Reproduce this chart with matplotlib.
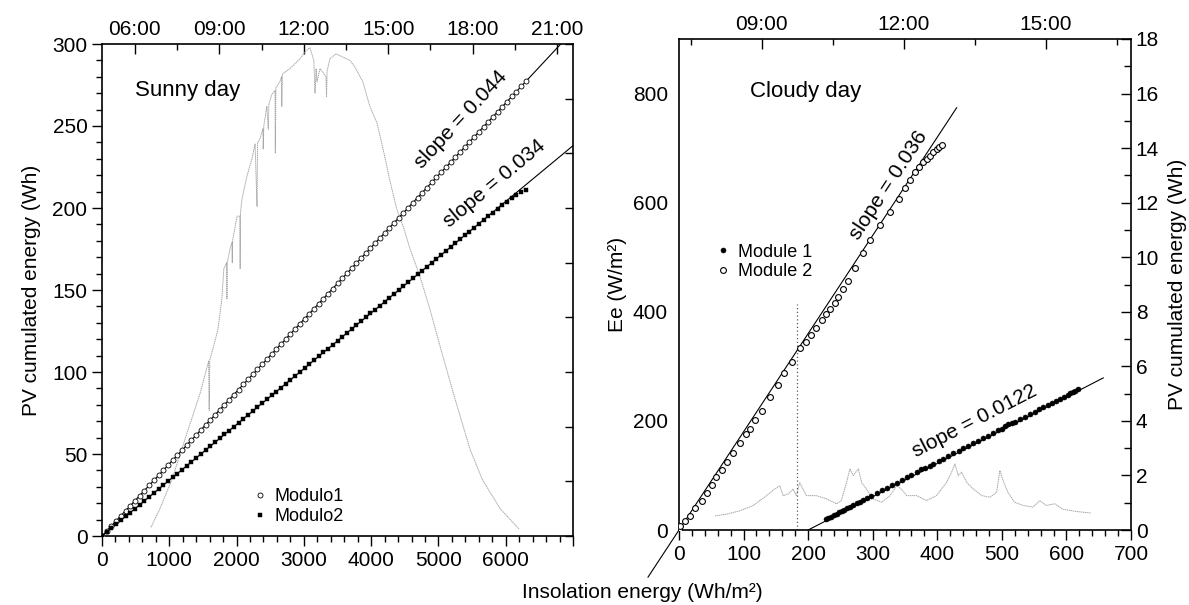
import numpy as np
import matplotlib
matplotlib.use("Agg")
import matplotlib.pyplot as plt
from matplotlib.ticker import MultipleLocator, FuncFormatter, NullFormatter

# ---------------- data ----------------
# Sunny day: cumulated insolation (Wh/m2) and cumulated PV energy (Wh)
sun_insol = [0, 70, 140, 210, 280, 350, 420, 490, 560, 630, 700, 770, 840, 910, 980, 1050,
             1120, 1190, 1260, 1330, 1400, 1470, 1540, 1610, 1680, 1750, 1820, 1890, 1960,
             2030, 2100, 2170, 2240, 2310, 2380, 2450, 2520, 2590, 2660, 2730, 2800, 2870,
             2940, 3010, 3080, 3150, 3220, 3290, 3360, 3430, 3500, 3570, 3640, 3710, 3780,
             3850, 3920, 3990, 4060, 4130, 4200, 4270, 4340, 4410, 4480, 4550, 4620, 4690,
             4760, 4830, 4900, 4970, 5040, 5110, 5180, 5250, 5320, 5390, 5460, 5530, 5600,
             5670, 5740, 5810, 5880, 5950, 6020, 6090, 6160, 6230, 6300]
modulo1 = [0, 3.1, 6.2, 9.2, 12.3, 15.4, 18.5, 21.6, 24.6, 27.7, 30.8, 33.9, 37.0, 40.0, 43.1,
           46.2, 49.3, 52.4, 55.4, 58.5, 61.6, 64.7, 67.8, 70.8, 73.9, 77.0, 80.1, 83.2, 86.2,
           89.3, 92.4, 95.5, 98.6, 101.6, 104.7, 107.8, 110.9, 114.0, 117.0, 120.1, 123.2,
           126.3, 129.4, 132.4, 135.5, 138.6, 141.7, 144.8, 147.8, 150.9, 154.0, 157.1, 160.2,
           163.2, 166.3, 169.4, 172.5, 175.6, 178.6, 181.7, 184.8, 187.9, 191.0, 194.0, 197.1,
           200.2, 203.3, 206.4, 209.4, 212.5, 215.6, 218.7, 221.8, 224.8, 227.9, 231.0, 234.1,
           237.2, 240.2, 243.3, 246.4, 249.5, 252.6, 255.6, 258.7, 261.8, 264.9, 268.0, 271.0,
           274.1, 277.2]
modulo2 = [0, 2.4, 4.8, 7.1, 9.5, 11.9, 14.3, 16.7, 19.0, 21.4, 23.8, 26.2, 28.6, 30.9, 33.3,
           35.7, 38.1, 40.5, 42.8, 45.2, 47.6, 50.0, 52.4, 54.7, 57.1, 59.5, 61.9, 64.3, 66.6,
           69.0, 71.4, 73.8, 76.2, 78.5, 80.9, 83.3, 85.7, 88.1, 90.4, 92.8, 95.2, 97.6, 100.0,
           102.3, 104.7, 107.1, 109.5, 111.9, 114.2, 116.6, 119.0, 121.4, 123.8, 126.1, 128.5,
           130.9, 133.3, 135.7, 138.0, 140.4, 142.8, 145.2, 147.6, 149.9, 152.3, 154.7, 157.1,
           159.5, 161.8, 164.2, 166.6, 169.0, 171.4, 173.7, 176.1, 178.5, 180.9, 183.3, 185.6,
           188.0, 190.4, 192.8, 195.2, 197.2, 199.4, 201.6, 203.7, 205.8, 207.8, 209.6, 211.2]
sun_slopes = [0.044, 0.034]
sun_fit_range = [0, 7000]

# Sunny day irradiance vs time of day (h, W/m2)
sun_time = [6.57, 6.89, 7.32, 7.78, 8.31, 8.62, 8.64, 8.66, 8.77, 8.95, 9.09, 9.16, 9.26, 9.27,
            9.28, 9.38, 9.45, 9.46, 9.47, 9.63, 9.73, 9.74, 9.75, 9.80, 9.98, 10.16, 10.27,
            10.34, 10.36, 10.44, 10.55, 10.56, 10.58, 10.69, 10.74, 10.76, 10.87, 10.98, 10.99,
            11.01, 11.15, 11.21, 11.22, 11.24, 11.51, 11.87, 12.08, 12.22, 12.36, 12.40, 12.44,
            12.47, 12.58, 12.79, 12.81, 12.83, 12.93, 13.15, 13.39, 13.64, 13.82, 14.10, 14.35,
            14.60, 14.82, 15.07, 15.31, 15.53, 15.78, 16.13, 16.49, 16.84, 17.38, 17.91, 18.34,
            18.98, 19.65]
sun_irr = [16, 50, 104, 177, 260, 320, 230, 322, 342, 378, 434, 489, 500, 434,
           500, 525, 537, 500, 540, 585, 585, 489, 590, 615, 658, 690, 717,
           603, 720, 726, 745, 708, 750, 786, 744, 790, 808, 815, 700,
           820, 831, 840, 786, 845, 855, 873, 888, 893, 870, 810, 855,
           831, 855, 840, 804, 850, 873, 882, 876, 870, 858, 831, 786,
           756, 708, 648, 597, 567, 525, 475, 414, 348, 250, 159, 104,
           50, 13]

# Cloudy day
m1_insol = [228, 231, 235, 240, 244, 248, 252, 256, 260, 265, 270, 275, 280, 285, 291, 298, 306,
            314, 322, 330, 337, 345, 353, 360, 368, 375, 381, 388, 394, 402, 409, 417, 425, 433,
            440, 448, 456, 463, 471, 479, 487, 494, 500, 505, 510, 515, 520, 528, 536, 544, 551,
            558, 564, 571, 577, 584, 590, 596, 602, 606, 610, 614, 618]
m1_energy = [0.40, 0.44, 0.49, 0.55, 0.60, 0.65, 0.69, 0.74, 0.79, 0.85, 0.91, 0.98, 1.04, 1.10,
             1.17, 1.26, 1.35, 1.45, 1.55, 1.65, 1.73, 1.83, 1.93, 2.01, 2.11, 2.24, 2.29, 2.35,
             2.43, 2.52, 2.61, 2.71, 2.81, 2.90, 2.99, 3.09, 3.18, 3.27, 3.37, 3.46, 3.56, 3.65,
             3.72, 3.82, 3.90, 3.93, 3.97, 4.06, 4.16, 4.26, 4.34, 4.43, 4.50, 4.59, 4.66, 4.74,
             4.82, 4.89, 4.96, 5.01, 5.06, 5.11, 5.16]
m2_insol = [0, 2, 9, 17, 25, 35, 43, 51, 58, 66, 74, 83, 95, 104, 110, 118, 128, 141, 154, 162,
            175, 187, 196, 204, 212, 221, 228, 234, 241, 247, 254, 261, 273, 285, 296, 311, 326,
            340, 350, 358, 366, 372, 378, 384, 389, 394, 399, 403, 407]
m2_energy = [0, 0.16, 0.34, 0.52, 0.80, 1.08, 1.34, 1.64, 1.94, 2.20, 2.50, 2.82, 3.20, 3.52,
             3.70, 4.02, 4.38, 4.88, 5.30, 5.74, 6.15, 6.67, 6.90, 7.15, 7.42, 7.69, 7.92, 8.12,
             8.34, 8.55, 8.82, 9.12, 9.61, 10.14, 10.62, 11.17, 11.67, 12.15, 12.52, 12.82,
             13.14, 13.30, 13.48, 13.60, 13.72, 13.85, 13.97, 14.05, 14.11]
cloud_slope_m2 = 0.036
cloud_fit_m2 = [-48, 430]
cloud_slope_m1 = 0.0122
cloud_fit_m1 = [200, 657]
cloud_vline_insol = 182
cloud_vline_ee = 415

cloud_time = [8.01, 8.25, 8.53, 8.82, 9.10, 9.27, 9.38, 9.45, 9.56, 9.66, 9.73, 9.80, 9.87, 9.94,
              10.15, 10.37, 10.58, 10.68, 10.79, 10.86, 10.93, 11.04, 11.11, 11.21, 11.35, 11.53,
              11.71, 11.85, 11.95, 12.06, 12.27, 12.48, 12.69, 12.90, 13.01, 13.08, 13.15, 13.22,
              13.33, 13.47, 13.65, 13.82, 13.96, 14.03, 14.10, 14.20, 14.34, 14.52, 14.73, 14.87,
              15.01, 15.19, 15.36, 15.64, 15.96]
cloud_irr = [26, 29, 35, 45, 63, 75, 81, 63, 66, 75, 63, 87, 75, 63, 63, 57, 48, 54, 87, 112,
             100, 112, 87, 75, 57, 51, 63, 81, 75, 63, 63, 54, 63, 87, 106, 121, 100, 106, 87, 75,
             63, 60, 69, 109, 90, 69, 51, 45, 42, 54, 45, 48, 38, 34, 31]

# ---------------- style ----------------
plt.rcParams['font.family'] = ['Liberation Sans', 'DejaVu Sans']
plt.rcParams['font.size'] = 15

W, H = 1189, 605
fig = plt.figure(figsize=(W / 100, H / 100), dpi=100)
fig.patch.set_facecolor('white')


def rect(l, t, r, b):
    return [l / W, 1 - b / H, (r - l) / W, (b - t) / H]


def hhmm(v, pos):
    return f"{int(round(v)):02d}:00"


GRAY = '#a8a8a8'

# ======== LEFT PANEL (sunny) ========
posL = rect(102, 44, 573, 536)
axLt = fig.add_axes(posL)  # time / irradiance axes (behind)
axL = fig.add_axes(posL)   # main axes
for a in (axLt, axL):
    a.patch.set_visible(False)
for s in axLt.spines.values():
    s.set_visible(False)

axLt.plot(sun_time, sun_irr, color=GRAY, lw=0.7, ls=(0, (1.5, 0.6)))
axLt.set_xlim(4.83, 21.57)
axLt.set_ylim(0, 900)
axLt.xaxis.set_major_locator(MultipleLocator(3))
axLt.xaxis.set_minor_locator(MultipleLocator(1.5))
axLt.xaxis.set_major_formatter(FuncFormatter(hhmm))
axLt.yaxis.set_major_locator(MultipleLocator(100))
axLt.yaxis.set_major_formatter(NullFormatter())
axLt.tick_params(axis='x', which='both', top=True, bottom=False, labeltop=True,
                 labelbottom=False, direction='in')
axLt.tick_params(axis='x', which='major', length=7, width=1)
axLt.tick_params(axis='x', which='minor', length=4, width=1)
axLt.tick_params(axis='y', which='both', right=True, left=False, labelleft=False,
                 labelright=False, direction='in', length=6, width=1)

xs = np.array(sun_fit_range, dtype=float)
for s in sun_slopes:
    axL.plot(xs, s * xs, color='k', lw=0.8, zorder=2)
h1, = axL.plot(sun_insol, modulo1, ls='none', marker='o', ms=3.6, mfc='white', mec='k',
               mew=0.6, label='Modulo1', zorder=3)
h2, = axL.plot(sun_insol, modulo2, ls='none', marker='s', ms=2.8, mfc='k', mec='k',
               mew=0.3, label='Modulo2', zorder=3)
axL.set_xlim(0, 7000)
axL.set_ylim(0, 300)
axL.xaxis.set_major_locator(MultipleLocator(1000))
axL.xaxis.set_minor_locator(MultipleLocator(200))
axL.xaxis.set_major_formatter(FuncFormatter(lambda v, p: f"{int(v)}" if v < 6500 else ""))
axL.yaxis.set_major_locator(MultipleLocator(50))
axL.yaxis.set_minor_locator(MultipleLocator(10))
axL.tick_params(which='both', direction='out', top=False, right=False, width=1)
axL.tick_params(which='major', length=7)
axL.tick_params(which='minor', length=4)
for s in axL.spines.values():
    s.set_linewidth(1.2)
axL.set_ylabel('PV cumulated energy (Wh)', fontsize=15, labelpad=8)

axL.text(0.07, 0.905, 'Sunny day', transform=axL.transAxes, fontsize=16, ha='left', va='center')
axL.text(5335, 254, 'slope = 0.044', rotation=np.degrees(np.arctan(sun_slopes[0])),
         transform_rotates_text=True, rotation_mode='anchor', ha='center', va='center',
         fontsize=15)
axL.text(5825, 215, 'slope = 0.034', rotation=np.degrees(np.arctan(sun_slopes[1])),
         transform_rotates_text=True, rotation_mode='anchor', ha='center', va='center',
         fontsize=15)
axL.legend(handles=[h1, h2], loc='upper left', bbox_to_anchor=(0.325, 0.097), frameon=False,
           handlelength=0.6, handletextpad=0.5, labelspacing=0.15, fontsize=13, borderpad=0,
           borderaxespad=0)

# ======== RIGHT PANEL (cloudy) ========
posR = rect(679, 39, 1131, 530)
axRt = fig.add_axes(posR)  # time / Ee axes
axR = fig.add_axes(posR)   # insolation / PV energy axes
for a in (axRt, axR):
    a.patch.set_visible(False)
for s in axRt.spines.values():
    s.set_visible(False)

axRt.plot(cloud_time, cloud_irr, color=GRAY, lw=0.7, ls=(0, (1.5, 0.6)))
axRt.set_xlim(7.25, 16.8)
axRt.set_ylim(0, 900)
axRt.xaxis.set_major_locator(MultipleLocator(3))
axRt.xaxis.set_minor_locator(MultipleLocator(1.5))
axRt.xaxis.set_major_formatter(FuncFormatter(hhmm))
axRt.yaxis.set_major_locator(MultipleLocator(200))
axRt.tick_params(axis='x', which='both', top=True, bottom=False, labeltop=True,
                 labelbottom=False, direction='in')
axRt.tick_params(axis='x', which='major', length=7, width=1)
axRt.tick_params(axis='x', which='minor', length=4, width=1)
axRt.tick_params(axis='y', which='both', left=True, right=False, length=0, pad=8)
axRt.set_ylabel('Ee (W/m²)', fontsize=15, labelpad=4)

axR.plot(cloud_fit_m2, [cloud_slope_m2 * v for v in cloud_fit_m2], color='k', lw=0.8,
         clip_on=False, zorder=2)
axR.plot(cloud_fit_m1, [cloud_slope_m1 * (v - cloud_fit_m1[0]) for v in cloud_fit_m1],
         color='k', lw=0.8, zorder=2)
axR.plot([cloud_vline_insol, cloud_vline_insol], [0, cloud_vline_ee / 50.0], color='#555555',
         lw=0.9, ls=(0, (1, 2)), zorder=1)
g1, = axR.plot(m1_insol, m1_energy, ls='none', marker='o', ms=3.6, mfc='k', mec='k', mew=0.4,
               label='Module 1', zorder=3)
g2, = axR.plot(m2_insol, m2_energy, ls='none', marker='o', ms=4.2, mfc='white', mec='k',
               mew=0.8, label='Module 2', zorder=3)
axR.set_xlim(0, 700)
axR.set_ylim(0, 18)
axR.xaxis.set_major_locator(MultipleLocator(100))
axR.xaxis.set_minor_locator(MultipleLocator(20))
axR.yaxis.set_major_locator(MultipleLocator(2))
axR.yaxis.set_minor_locator(MultipleLocator(1))
axR.yaxis.tick_right()
axR.yaxis.set_label_position('right')
axR.tick_params(axis='x', which='both', direction='out', top=False, width=1)
axR.tick_params(axis='x', which='major', length=7)
axR.tick_params(axis='x', which='minor', length=4)
axR.tick_params(axis='y', which='both', direction='in', left=False, right=True, width=1)
axR.tick_params(axis='y', which='major', length=7)
axR.tick_params(axis='y', which='minor', length=5)
for s in axR.spines.values():
    s.set_linewidth(1.2)
axR.set_ylabel('PV cumulated energy (Wh)', fontsize=15, labelpad=6)

axR.text(0.157, 0.894, 'Cloudy day', transform=axR.transAxes, fontsize=16, ha='left',
         va='center')
axR.text(325, 12.65, 'slope = 0.036', rotation=np.degrees(np.arctan(cloud_slope_m2)),
         transform_rotates_text=True, rotation_mode='anchor', ha='center', va='center',
         fontsize=15)
axR.text(458, 4.0, 'slope = 0.0122', rotation=np.degrees(np.arctan(cloud_slope_m1)),
         transform_rotates_text=True, rotation_mode='anchor', ha='center', va='center',
         fontsize=15)
axR.legend(handles=[g1, g2], loc='upper left', bbox_to_anchor=(0.086, 0.583), frameon=False,
           handlelength=0.6, handletextpad=0.5, labelspacing=0.15, fontsize=13, borderpad=0,
           borderaxespad=0)

fig.text(642 / W, 1 - 592 / H, 'Insolation energy (Wh/m²)', ha='center', va='center',
         fontsize=15)

fig.savefig('out.png', dpi=100, facecolor='white')
